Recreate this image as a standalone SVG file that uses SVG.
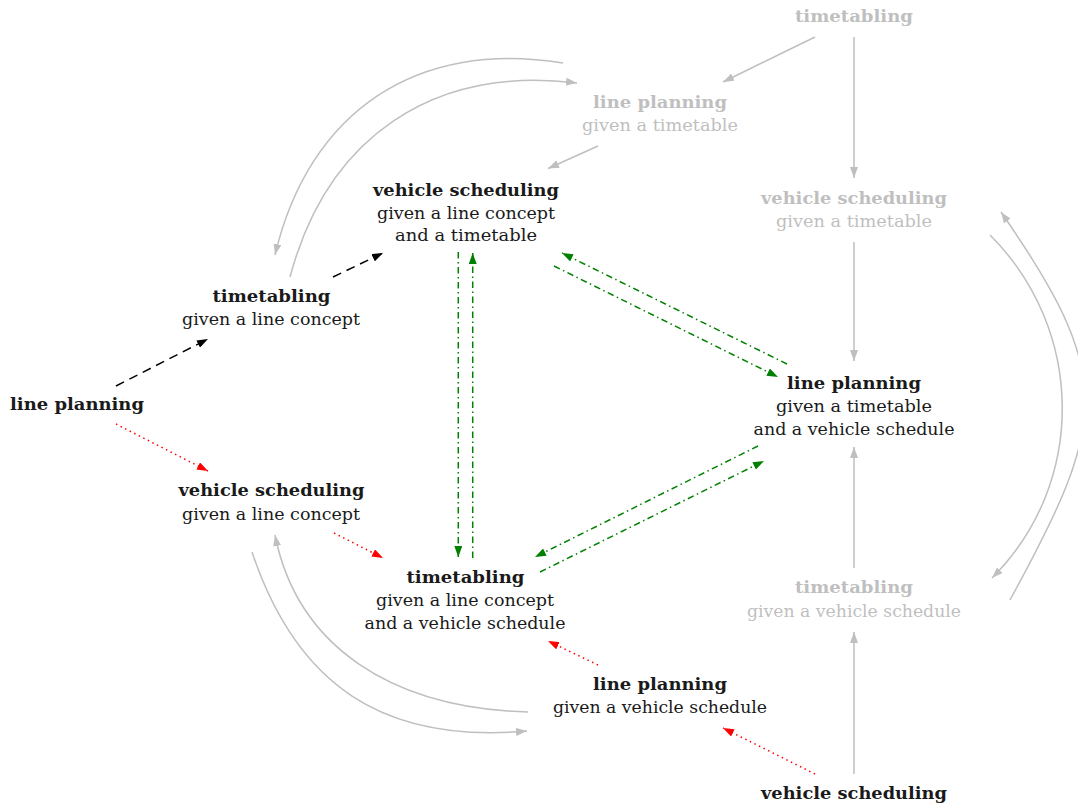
<svg xmlns="http://www.w3.org/2000/svg" width="1078" height="804" viewBox="0 0 1078 804">
<style>
text{font-family:"DejaVu Serif","Liberation Serif",serif;font-size:17px;text-anchor:middle;fill:#1a1a1a}
.b{font-weight:bold}
.gt text{fill:#bfbfbf}
.c{fill:none;stroke-width:1.5}
.gray{stroke:#bfbfbf;marker-end:url(#ag)}
.blk{stroke:#000;stroke-dasharray:9 6;marker-end:url(#ak)}
.red{stroke:#ff0000;stroke-dasharray:1.5 3.6;marker-end:url(#ar)}
.grn{stroke:#008000;stroke-dasharray:6.5 3.5 1.5 3.5;marker-end:url(#an)}
</style>
<defs>
<marker id="ag" viewBox="0 0 11 8" refX="11" refY="4" markerWidth="11" markerHeight="8" markerUnits="userSpaceOnUse" orient="auto"><path d="M0,0 L11,4 L0,8 Z" fill="#bfbfbf"/></marker>
<marker id="ak" viewBox="0 0 11 8" refX="11" refY="4" markerWidth="11" markerHeight="8" markerUnits="userSpaceOnUse" orient="auto"><path d="M0,0 L11,4 L0,8 Z" fill="#000"/></marker>
<marker id="ar" viewBox="0 0 11 8" refX="11" refY="4" markerWidth="11" markerHeight="8" markerUnits="userSpaceOnUse" orient="auto"><path d="M0,0 L11,4 L0,8 Z" fill="#ff0000"/></marker>
<marker id="an" viewBox="0 0 11 8" refX="11" refY="4" markerWidth="11" markerHeight="8" markerUnits="userSpaceOnUse" orient="auto"><path d="M0,0 L11,4 L0,8 Z" fill="#008000"/></marker>
</defs>
<rect width="1078" height="804" fill="#fff"/>
<g id="connectors">
<path class="c gray" d="M815,37 L723,82"/>
<path class="c gray" d="M854,37 L854,178"/>
<path class="c gray" d="M598,146 L548,168.5"/>
<path class="c gray" d="M854,242 L854,361"/>
<path class="c gray" d="M854,568 L854,447"/>
<path class="c gray" d="M854,774 L854,632"/>
<path class="c gray" d="M563,63 C416.9,39.1 309.1,111 275,255"/>
<path class="c gray" d="M290,277 C327.4,136.9 433.1,65.5 577,83"/>
<path class="c gray" d="M1010,600 C1107.5,421.4 1115.7,377.5 1001,212"/>
<path class="c gray" d="M990,235 C1085,330 1087,483 992,578"/>
<path class="c gray" d="M252,552 C296.4,684.8 382.6,743.6 527,731"/>
<path class="c gray" d="M528,712 C393,708 297.5,647.7 275,535"/>
<path class="c blk" d="M116,386 L208,339"/>
<path class="c blk" d="M333,277 L383,253"/>
<path class="c red" d="M116,424 L208,471"/>
<path class="c red" d="M334,533 L383,558"/>
<path class="c red" d="M598,665 L548,641"/>
<path class="c red" d="M815,774 L723,728"/>
<path class="c grn" d="M458.3,252 L458.3,557"/>
<path class="c grn" d="M472.7,558 L472.7,253"/>
<path class="c grn" d="M787,364 L562,253"/>
<path class="c grn" d="M554,266 L778,377"/>
<path class="c grn" d="M758,446 L535,557"/>
<path class="c grn" d="M540,572 L764,461"/>
</g>
<g id="tt_top" class="gt"><text class="b" x="854" y="22" textLength="118" lengthAdjust="spacingAndGlyphs">timetabling</text></g>
<g id="lp_given_tt" class="gt"><text class="b" x="660" y="108" textLength="134" lengthAdjust="spacingAndGlyphs">line planning</text><text x="660" y="130.5" textLength="156" lengthAdjust="spacingAndGlyphs">given a timetable</text></g>
<g id="vs_given_lc_tt"><text class="b" x="466" y="195.5" textLength="186" lengthAdjust="spacingAndGlyphs">vehicle scheduling</text><text x="466" y="218.5" textLength="178" lengthAdjust="spacingAndGlyphs">given a line concept</text><text x="466" y="241" textLength="142" lengthAdjust="spacingAndGlyphs">and a timetable</text></g>
<g id="vs_given_tt" class="gt"><text class="b" x="854" y="204" textLength="186" lengthAdjust="spacingAndGlyphs">vehicle scheduling</text><text x="854" y="227" textLength="156" lengthAdjust="spacingAndGlyphs">given a timetable</text></g>
<g id="tt_given_lc"><text class="b" x="271.5" y="301.5" textLength="118" lengthAdjust="spacingAndGlyphs">timetabling</text><text x="271" y="325" textLength="178" lengthAdjust="spacingAndGlyphs">given a line concept</text></g>
<g id="lp_given_tt_vs"><text class="b" x="854" y="388.5" textLength="134" lengthAdjust="spacingAndGlyphs">line planning</text><text x="854" y="412" textLength="156" lengthAdjust="spacingAndGlyphs">given a timetable</text><text x="854" y="435" textLength="201" lengthAdjust="spacingAndGlyphs">and a vehicle schedule</text></g>
<g id="lp"><text class="b" x="77" y="410" textLength="134" lengthAdjust="spacingAndGlyphs">line planning</text></g>
<g id="vs_given_lc"><text class="b" x="271.5" y="496" textLength="186" lengthAdjust="spacingAndGlyphs">vehicle scheduling</text><text x="271" y="519.5" textLength="178" lengthAdjust="spacingAndGlyphs">given a line concept</text></g>
<g id="tt_given_lc_vs"><text class="b" x="465.5" y="583" textLength="118" lengthAdjust="spacingAndGlyphs">timetabling</text><text x="465" y="606" textLength="178" lengthAdjust="spacingAndGlyphs">given a line concept</text><text x="465" y="628.5" textLength="201" lengthAdjust="spacingAndGlyphs">and a vehicle schedule</text></g>
<g id="tt_given_vs" class="gt"><text class="b" x="854" y="593" textLength="118" lengthAdjust="spacingAndGlyphs">timetabling</text><text x="854" y="616.5" textLength="214" lengthAdjust="spacingAndGlyphs">given a vehicle schedule</text></g>
<g id="lp_given_vs"><text class="b" x="660" y="690" textLength="134" lengthAdjust="spacingAndGlyphs">line planning</text><text x="660" y="713" textLength="214" lengthAdjust="spacingAndGlyphs">given a vehicle schedule</text></g>
<g id="vs"><text class="b" x="854" y="798.5" textLength="186" lengthAdjust="spacingAndGlyphs">vehicle scheduling</text></g>
</svg>
